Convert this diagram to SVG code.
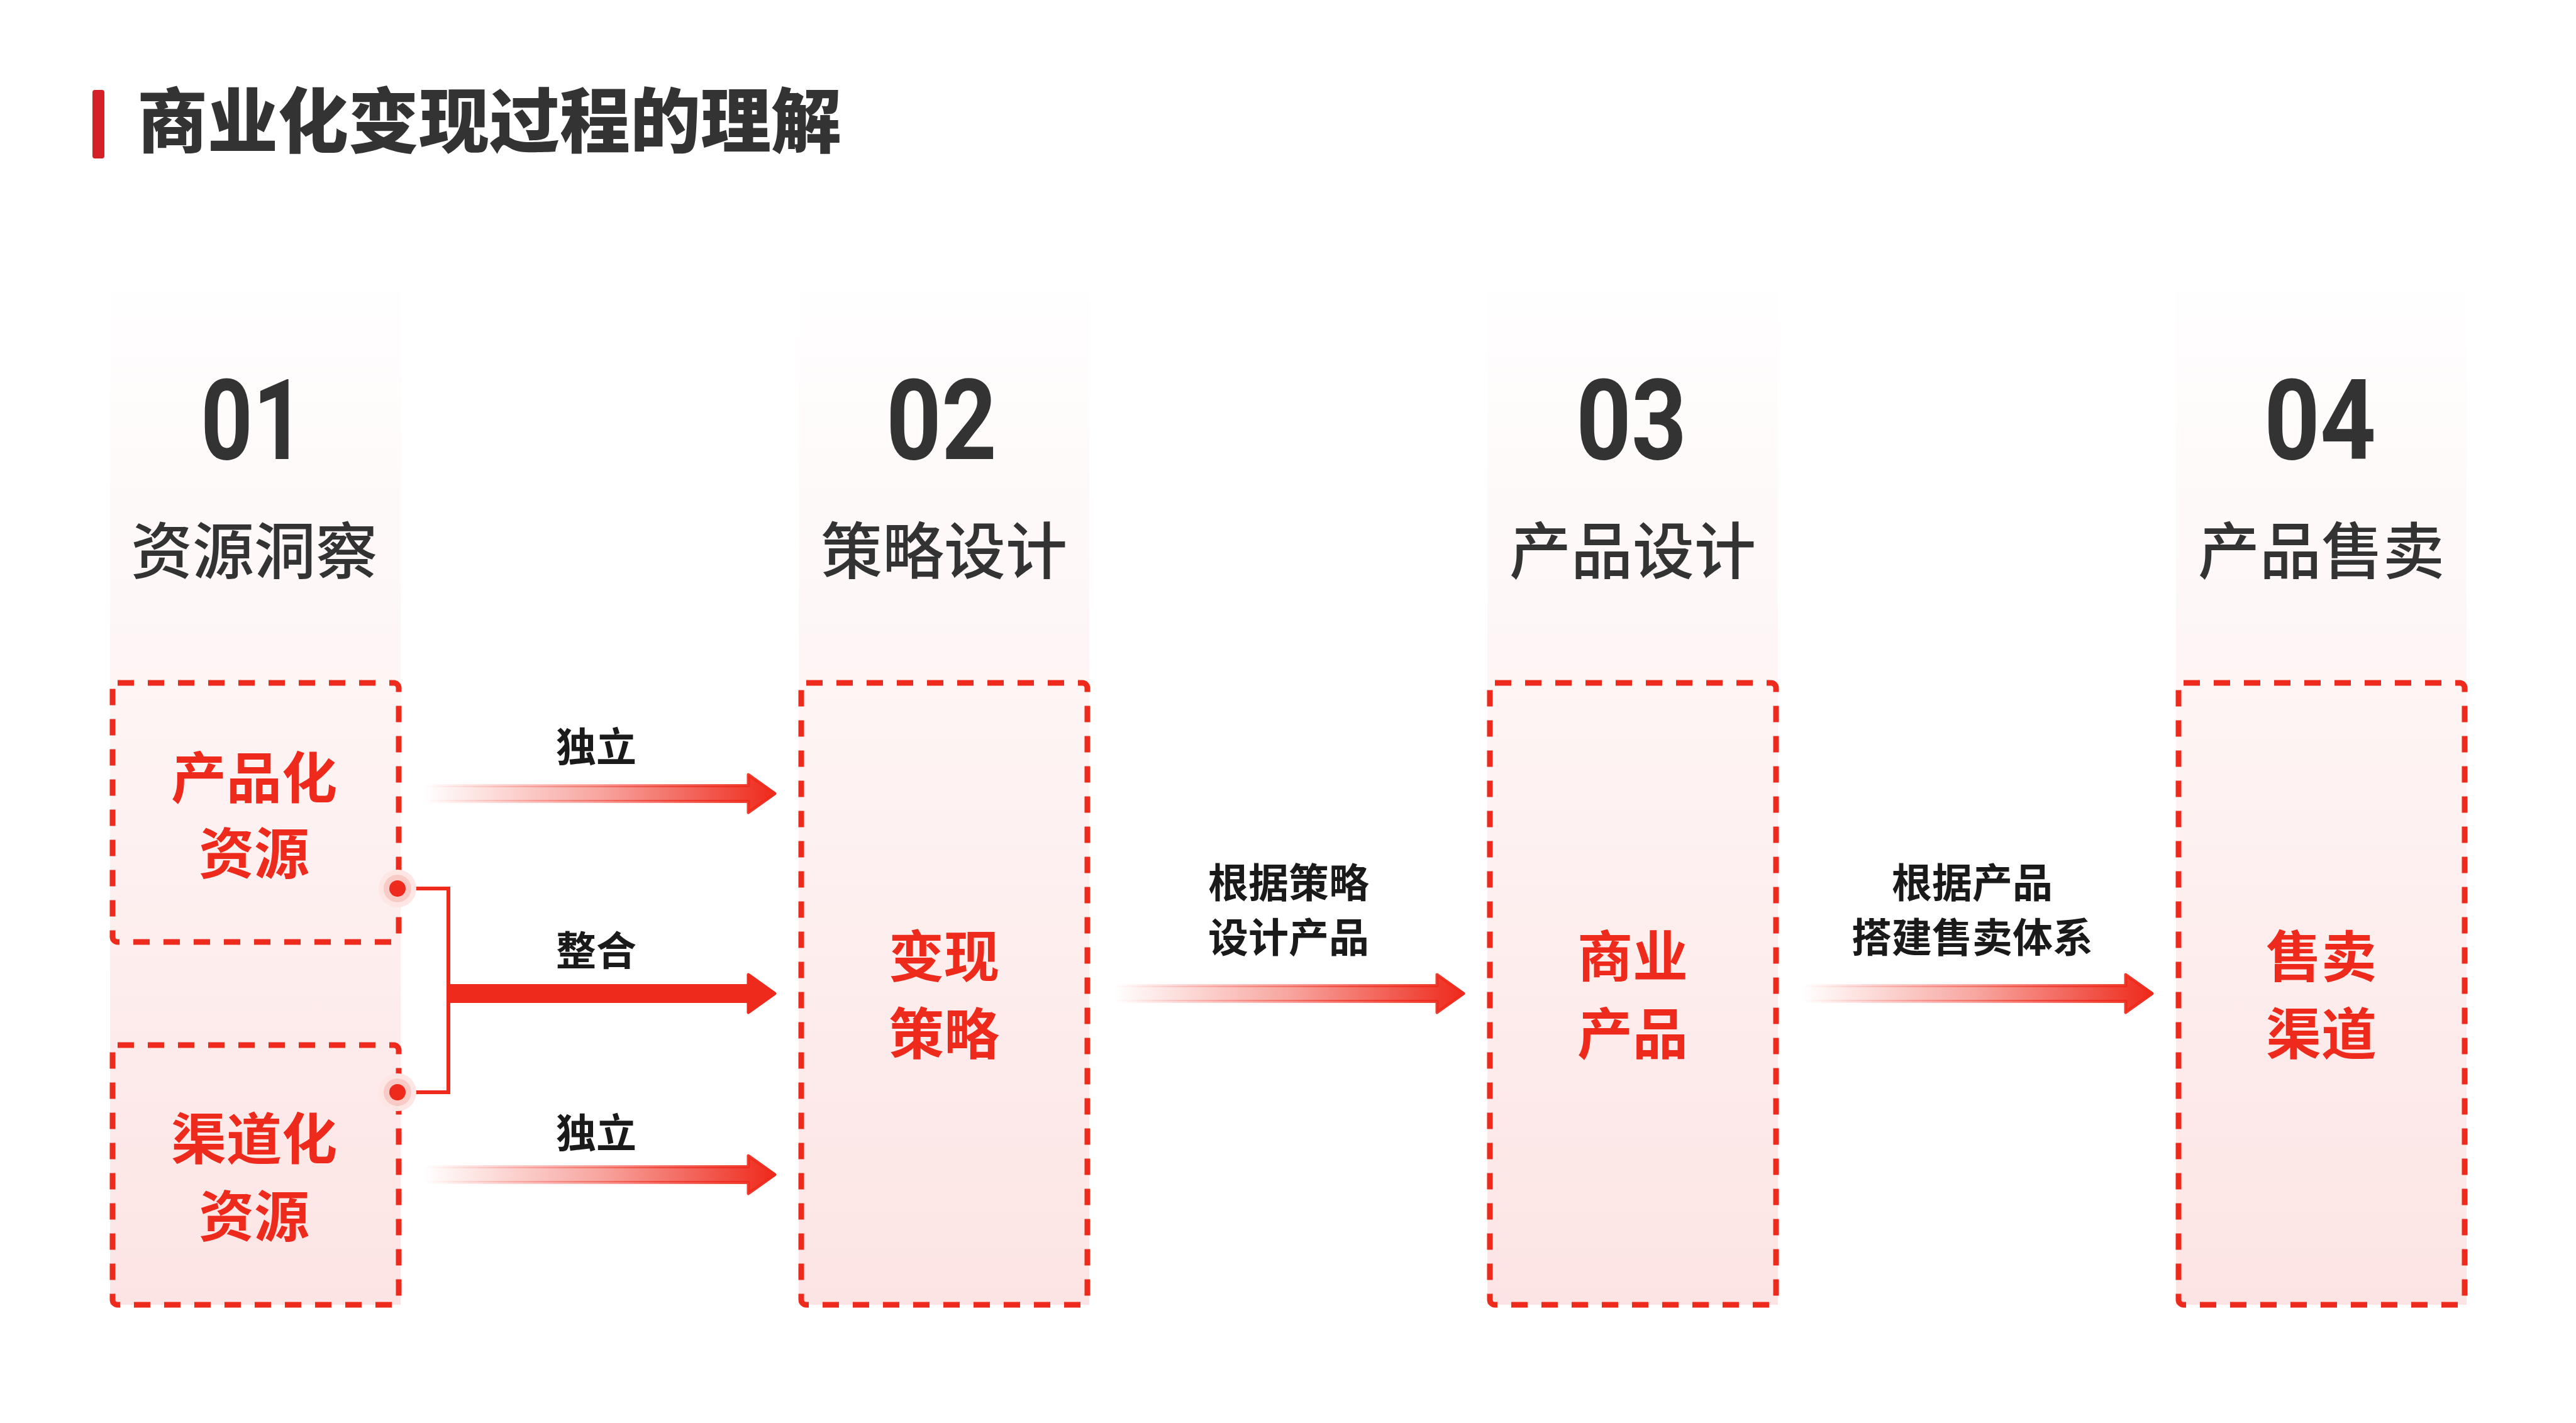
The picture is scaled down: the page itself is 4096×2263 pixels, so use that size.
<svg xmlns="http://www.w3.org/2000/svg" width="4096" height="2263" viewBox="0 0 4096 2263">
  <defs>
    <linearGradient id="panelGrad" x1="0" y1="0" x2="0" y2="1">
      <stop offset="0" stop-color="#fffefe"/>
      <stop offset="0.35" stop-color="#fef6f6"/>
      <stop offset="1" stop-color="#fde4e4"/>
    </linearGradient>
    <linearGradient id="arrowGrad" x1="0" y1="0" x2="1" y2="0">
      <stop offset="0" stop-color="#ee2a1c" stop-opacity="0"/>
      <stop offset="0.5" stop-color="#ee2a1c" stop-opacity="0.42"/>
      <stop offset="1" stop-color="#ee2a1c" stop-opacity="1"/>
    </linearGradient>
    <style>
      .panel { fill: url(#panelGrad); }
      .box { fill: none; stroke: #ee2a1c; stroke-width: 9; stroke-dasharray: 26 22; }
      .num { font-family: Roboto, "DejaVu Sans", sans-serif; font-weight: 700; font-size: 178px; fill: #333333; text-anchor: middle; }
      .head { font-family: "Noto Sans CJK SC", "Noto Sans", sans-serif; font-weight: 500; font-size: 98px; fill: #333333; text-anchor: middle; }
      .red { font-family: "Noto Sans CJK SC", "Noto Sans", sans-serif; font-weight: 700; font-size: 88px; fill: #ee2a1c; text-anchor: middle; }
      .lbl { font-family: "Noto Sans CJK SC", "Noto Sans", sans-serif; font-weight: 700; font-size: 64px; fill: #1a1a1a; text-anchor: middle; }
      .title { font-family: "Noto Sans CJK SC", "Noto Sans", sans-serif; font-weight: 900; font-size: 112px; fill: #333333; }
      .garrow { fill: url(#arrowGrad); stroke: url(#arrowGrad); stroke-width: 5; stroke-linejoin: round; }
      .sarrow { fill: #ee2a1c; stroke: #ee2a1c; stroke-width: 5; stroke-linejoin: round; }
      .conn { fill: none; stroke: #ee2a1c; stroke-width: 6; }
    </style>
  </defs>
  <rect width="4096" height="2263" fill="#ffffff"/>

  <g id="title">
    <rect x="147" y="143" width="19" height="109" rx="4" fill="#d42027"/>
    <text class="title" x="218" y="234">商业化变现过程的理解</text>
  </g>

  <g id="col1">
    <rect class="panel" x="175" y="462" width="462" height="1613"/>
    <text class="num" x="402" y="730" textLength="166" lengthAdjust="spacingAndGlyphs">01</text>
    <text class="head" x="404" y="912">资源洞察</text>
  </g>
  <g id="node-product-resource">
    <rect class="box" x="179" y="1086" width="455" height="412" rx="8"/>
    <text class="red" x="404" y="1269">产品化</text>
    <text class="red" x="404" y="1389">资源</text>
  </g>
  <g id="node-channel-resource">
    <rect class="box" x="179" y="1662" width="455" height="413" rx="8"/>
    <text class="red" x="404" y="1843">渠道化</text>
    <text class="red" x="404" y="1966">资源</text>
  </g>

  <g id="col2">
    <rect class="panel" x="1270" y="462" width="462" height="1613"/>
    <text class="num" x="1497" y="730" textLength="176" lengthAdjust="spacingAndGlyphs">02</text>
    <text class="head" x="1501" y="912">策略设计</text>
  </g>
  <g id="node-strategy">
    <rect class="box" x="1274" y="1086" width="455" height="989" rx="8"/>
    <text class="red" x="1501" y="1553">变现</text>
    <text class="red" x="1501" y="1676">策略</text>
  </g>

  <g id="col3">
    <rect class="panel" x="2365" y="462" width="462" height="1613"/>
    <text class="num" x="2594" y="730" textLength="176" lengthAdjust="spacingAndGlyphs">03</text>
    <text class="head" x="2596" y="912">产品设计</text>
  </g>
  <g id="node-product">
    <rect class="box" x="2369" y="1086" width="455" height="989" rx="8"/>
    <text class="red" x="2596" y="1553">商业</text>
    <text class="red" x="2596" y="1676">产品</text>
  </g>

  <g id="col4">
    <rect class="panel" x="3460" y="462" width="462" height="1613"/>
    <text class="num" x="3689" y="730" textLength="178" lengthAdjust="spacingAndGlyphs">04</text>
    <text class="head" x="3691" y="912">产品售卖</text>
  </g>
  <g id="node-sales">
    <rect class="box" x="3464" y="1086" width="455" height="989" rx="8"/>
    <text class="red" x="3691" y="1553">售卖</text>
    <text class="red" x="3691" y="1676">渠道</text>
  </g>

  <g id="connectors">
    <path class="garrow" d="M674 1249.5 H1190 V1232 L1232 1262 L1190 1292 V1274.5 H674 Z"/>
    <text class="lbl" x="948" y="1211">独立</text>

    <path class="conn" d="M632 1413 H713 V1737 H632"/>
    <circle cx="632" cy="1413" r="30" fill="#fde6e4"/>
    <circle cx="632" cy="1413" r="22" fill="#f9cbc7"/>
    <circle cx="632" cy="1413" r="13" fill="#ee2a1c"/>
    <circle cx="632" cy="1737" r="30" fill="#fde6e4"/>
    <circle cx="632" cy="1737" r="22" fill="#f9cbc7"/>
    <circle cx="632" cy="1737" r="13" fill="#ee2a1c"/>
    <path class="sarrow" d="M713 1567.5 H1190 V1550 L1232 1580 L1190 1610 V1592.5 H713 Z"/>
    <text class="lbl" x="948" y="1535">整合</text>

    <path class="garrow" d="M674 1855.5 H1190 V1838 L1232 1868 L1190 1898 V1880.5 H674 Z"/>
    <text class="lbl" x="948" y="1825">独立</text>

    <path class="garrow" d="M1771 1567.5 H2285 V1550 L2327 1580 L2285 1610 V1592.5 H1771 Z"/>
    <text class="lbl" x="2049" y="1427">根据策略</text>
    <text class="lbl" x="2049" y="1514">设计产品</text>

    <path class="garrow" d="M2865 1567.5 H3380 V1550 L3422 1580 L3380 1610 V1592.5 H2865 Z"/>
    <text class="lbl" x="3136" y="1427">根据产品</text>
    <text class="lbl" x="3136" y="1514">搭建售卖体系</text>
  </g>
</svg>
